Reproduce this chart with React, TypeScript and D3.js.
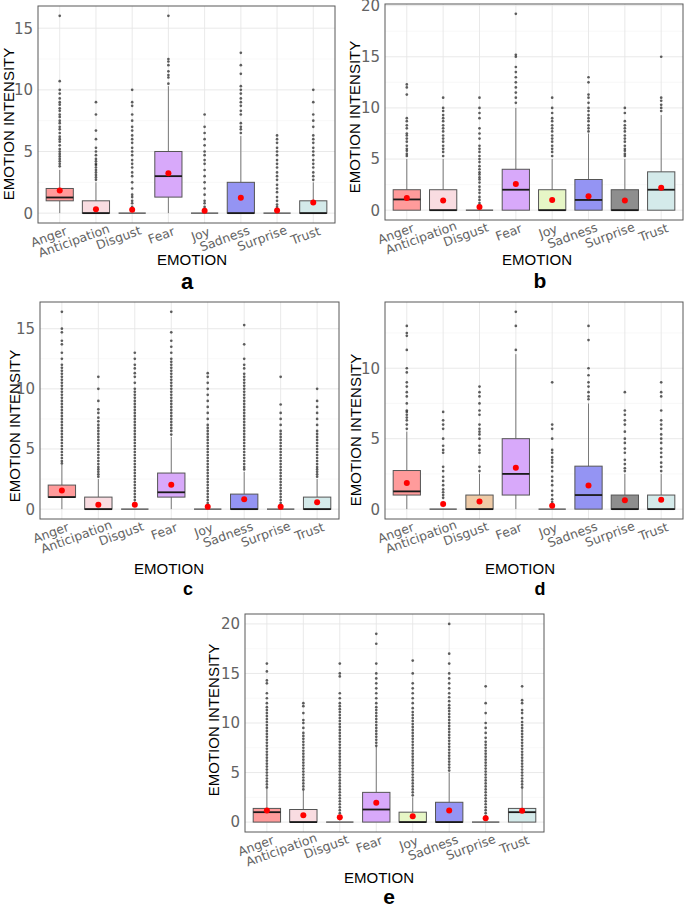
import * as d3 from 'd3';

const EMOTIONS = ['Anger', 'Anticipation', 'Disgust', 'Fear', 'Joy', 'Sadness', 'Surprise', 'Trust'];
const FILLS = ['#ff9b9b', '#f9dce1', '#eecaa6', '#d8a9fa', '#e6f6c6', '#9494f3', '#8e8e8e', '#d4eaea'];

// per emotion: [lower whisker, q1, median, q3, upper whisker]
const A_BOX = [[0, 1, 1.27, 2, 3.5], [0, 0, 0, 1, 2.5], [0, 0, 0, 0, 0], [0, 1.3, 3, 5, 10.3], [0, 0, 0, 0, 0], [0, 0, 0, 2.5, 6.25], [0, 0, 0, 0, 0], [0, 0, 0, 1, 2.5]];
const A_MEAN = [1.84, 0.32, 0.27, 3.24, 0.19, 1.24, 0.22, 0.86];
const A_OUT = [
  [3.8, 4, 4.2, 4.4, 4.6, 4.8, 5, 5.2, 5.5, 5.8, 6, 6.2, 6.5, 6.8, 7, 7.3, 7.5, 7.8, 8, 8.3, 8.5, 8.8, 9, 9.3, 9.7, 10, 10.7, 16],
  [2.7, 2.9, 3.1, 3.3, 3.5, 3.7, 3.9, 4, 4.2, 4.4, 4.7, 5, 5.3, 6, 6.7, 8, 9],
  [0.3, 0.5, 0.8, 1, 1.3, 1.5, 2, 2.5, 3, 3.3, 3.7, 4, 4.3, 4.7, 5, 5.3, 5.7, 6, 6.3, 6.7, 7, 7.5, 8, 8.7, 9, 10],
  [10.5, 11, 11.2, 11.5, 12, 12.3, 12.5, 16],
  [0.3, 0.5, 0.8, 1, 1.5, 2, 2.5, 3, 3.5, 4, 4.3, 4.7, 5, 5.5, 6, 6.5, 7, 8],
  [6.5, 6.8, 7, 7.3, 8, 8.3, 8.7, 9, 9.3, 9.7, 10, 10.3, 11.3, 12, 13],
  [0.3, 0.5, 0.7, 1, 1.3, 1.7, 2, 2.3, 2.7, 3, 3.3, 3.7, 4, 4.3, 4.7, 5, 5.3, 5.7, 6, 6.3],
  [2.7, 3, 3.3, 3.7, 4, 4.3, 4.7, 5, 5.3, 5.7, 6, 6.3, 7, 7.5, 8, 9, 10],
];

const B_BOX = [[0, 0, 1.05, 2, 5], [0, 0, 0, 2, 5], [0, 0, 0, 0, 0], [0, 0, 2, 4, 10], [0, 0, 0, 2, 5], [0, 0, 1, 3, 7.5], [0, 0, 0, 2, 5], [0, 0, 2, 3.75, 9.3]];
const B_MEAN = [1.2, 0.95, 0.3, 2.55, 1.0, 1.37, 0.95, 2.2];
const B_OUT = [
  [5.3, 5.5, 5.8, 6, 6.3, 6.7, 7, 7.3, 7.5, 8, 8.3, 8.7, 9, 11.3, 12, 12.3],
  [5.3, 5.7, 6, 6.3, 6.7, 7, 7.3, 7.7, 8, 8.3, 8.7, 9, 9.3, 9.7, 10, 11],
  [0.3, 0.5, 0.7, 1, 1.3, 1.7, 2, 2.3, 2.7, 3, 3.2, 3.5, 3.7, 4, 4.3, 4.7, 5, 5.3, 5.7, 6, 6.3, 7, 7.5, 8, 9, 9.5, 10, 11],
  [10.5, 11, 11.5, 12, 12.5, 13, 13.5, 14, 15, 15.2, 19.2],
  [5.3, 5.7, 6, 6.3, 6.7, 7, 7.3, 7.7, 8, 8.3, 8.7, 9, 9.5, 10, 11],
  [7.7, 8, 8.3, 8.7, 9, 9.3, 9.7, 10, 10.5, 11, 11.3, 12.5, 13],
  [5.3, 5.5, 5.8, 6, 6.3, 6.7, 7, 7.3, 7.7, 8, 8.3, 8.7, 9.5, 10],
  [9.7, 10, 10.3, 10.7, 11, 15],
];

const C_BOX = [[0, 1, 1, 2, 3.7], [0, 0, 0, 1, 2.5], [0, 0, 0, 0, 0], [0, 1, 1.4, 3, 6], [0, 0, 0, 0, 0], [0, 0, 0, 1.25, 3.1], [0, 0, 0, 0, 0], [0, 0, 0, 1, 2.5]];
const C_MEAN = [1.55, 0.36, 0.36, 2.03, 0.19, 0.83, 0.19, 0.58];
const C_OUT = [
  [3.8, 4, 4.25, 4.5, 4.75, 5, 5.25, 5.5, 5.75, 6, 6.25, 6.5, 6.75, 7, 7.25, 7.5, 7.75, 8, 8.25, 8.5, 8.75, 9, 9.25, 9.5, 9.75, 10, 10.25, 10.5, 10.75, 11, 11.25, 11.5, 11.75, 12, 12.5, 13, 13.7, 14, 14.7, 15, 16.4],
  [2.7, 2.9, 3.1, 3.3, 3.5, 3.75, 4, 4.25, 4.5, 4.75, 5, 5.25, 5.5, 5.75, 6, 6.25, 6.5, 6.75, 7, 7.3, 7.6, 8, 8.3, 9, 10, 11],
  [0.3, 0.5, 0.75, 1, 1.25, 1.5, 1.75, 2, 2.25, 2.5, 2.75, 3, 3.25, 3.5, 3.75, 4, 4.25, 4.5, 4.75, 5, 5.25, 5.5, 5.75, 6, 6.25, 6.5, 6.75, 7, 7.25, 7.5, 7.75, 8, 8.25, 8.5, 8.75, 9, 9.25, 9.5, 9.75, 10, 10.5, 11, 11.3, 11.7, 12, 12.5, 13],
  [6.2, 6.5, 6.75, 7, 7.25, 7.5, 7.75, 8, 8.25, 8.5, 8.75, 9, 9.25, 9.5, 9.75, 10, 10.25, 10.5, 10.75, 11, 11.25, 11.5, 11.75, 12, 12.25, 12.5, 13, 13.5, 14, 14.7, 16.4],
  [0.3, 0.5, 0.75, 1, 1.25, 1.5, 1.75, 2, 2.25, 2.5, 2.75, 3, 3.25, 3.5, 3.75, 4, 4.25, 4.5, 4.75, 5, 5.25, 5.5, 5.75, 6, 6.25, 6.5, 6.75, 7, 7.5, 8, 8.5, 9, 9.5, 10, 10.5, 11, 11.3],
  [3.3, 3.5, 3.75, 4, 4.25, 4.5, 4.75, 5, 5.25, 5.5, 5.75, 6, 6.25, 6.5, 6.75, 7, 7.25, 7.5, 7.75, 8, 8.25, 8.5, 8.75, 9, 9.25, 9.5, 9.75, 10, 10.25, 10.5, 10.75, 11, 11.25, 11.7, 12, 12.5, 13.7, 15.3],
  [0.3, 0.5, 0.75, 1, 1.25, 1.5, 1.75, 2, 2.25, 2.5, 2.75, 3, 3.25, 3.5, 3.75, 4, 4.25, 4.5, 4.75, 5, 5.25, 5.5, 5.75, 6, 6.25, 6.5, 7, 7.5, 8, 8.7, 11],
  [2.7, 2.9, 3.1, 3.3, 3.5, 3.75, 4, 4.25, 4.5, 4.75, 5, 5.25, 5.5, 5.75, 6, 6.25, 6.5, 7, 7.5, 8, 8.5, 9, 10],
];

const D_BOX = [[0, 1, 1.26, 2.74, 5.5], [0, 0, 0, 0, 0], [0, 0, 0, 1, 2.5], [0, 1, 2.5, 5, 11], [0, 0, 0, 0, 0], [0, 0, 1, 3.05, 7.5], [0, 0, 0, 1, 2.5], [0, 0, 0, 1, 2.5]];
const D_MEAN = [1.86, 0.36, 0.55, 2.93, 0.24, 1.67, 0.63, 0.67];
const D_OUT = [
  [5.7, 6, 6.3, 6.5, 6.7, 6.9, 7, 7.5, 8, 8.3, 8.7, 9, 9.7, 10, 11.3, 12.3, 12.5, 13],
  [0.8, 1, 1.2, 1.4, 1.7, 2, 2.3, 2.7, 3, 4, 4.2, 4.5, 5, 5.7, 6, 6.3, 6.9],
  [2.7, 3, 4, 4.2, 4.5, 5, 5.3, 5.5, 5.7, 6, 6.7, 7, 7.5, 8, 8.3, 8.7],
  [11.3, 13, 14],
  [0.5, 0.7, 1, 1.3, 1.7, 2, 2.3, 2.7, 3, 3.3, 3.5, 3.7, 4, 4.2, 5, 5.7, 6, 9],
  [7.8, 8, 8.3, 8.7, 9, 9.5, 10, 12, 13],
  [2.7, 2.9, 3.2, 3.5, 4, 4.3, 4.7, 5, 5.5, 6, 6.3, 6.7, 7, 8.3],
  [2.7, 3, 3.3, 3.7, 4, 4.3, 4.7, 5, 5.3, 5.7, 6, 6.3, 7, 8, 8.3, 9],
];

const E_BOX = [[0, 0, 1, 1.38, 3.4], [0, 0, 0, 1.27, 3.2], [0, 0, 0, 0, 0], [0, 0, 1.27, 3, 7.6], [0, 0, 0, 1, 2.5], [0, 0, 0, 2, 5], [0, 0, 0, 0, 0], [0, 0, 1, 1.38, 3.4]];
const E_MEAN = [1.17, 0.7, 0.5, 1.95, 0.6, 1.17, 0.4, 1.14];
const E_OUT = [
  [3.5, 3.8, 4.1, 4.4, 4.7, 5, 5.3, 5.6, 5.9, 6.2, 6.5, 6.8, 7.1, 7.4, 7.7, 8, 8.3, 8.6, 8.9, 9.2, 9.5, 9.8, 10.1, 10.4, 10.7, 11, 11.3, 11.6, 12, 12.5, 13, 14, 14.3, 15.2, 16],
  [3.3, 3.6, 3.9, 4.2, 4.5, 4.8, 5.1, 5.4, 5.7, 6, 6.3, 6.6, 6.9, 7.2, 7.5, 7.8, 8.1, 8.4, 8.7, 9, 9.5, 10, 10.3, 11, 11.7, 12],
  [0.3, 0.6, 0.9, 1.2, 1.5, 1.8, 2.1, 2.4, 2.7, 3, 3.3, 3.6, 3.9, 4.2, 4.5, 4.8, 5.1, 5.4, 5.7, 6, 6.3, 6.6, 6.9, 7.2, 7.5, 7.8, 8.1, 8.4, 8.7, 9, 9.3, 9.6, 9.9, 10.2, 10.5, 10.8, 11.1, 11.4, 11.7, 12, 12.5, 13, 14.7, 15, 16],
  [7.7, 8, 8.3, 8.6, 8.9, 9.2, 9.5, 9.8, 10.1, 10.4, 10.7, 11, 11.3, 11.6, 12, 12.5, 13, 13.5, 14, 14.5, 15, 16, 18, 19],
  [2.7, 3, 3.3, 3.6, 3.9, 4.2, 4.5, 4.8, 5.1, 5.4, 5.7, 6, 6.3, 6.6, 6.9, 7.2, 7.5, 7.8, 8.1, 8.4, 8.7, 9, 9.3, 9.6, 9.9, 10.2, 10.5, 10.8, 11.1, 11.5, 12, 12.5, 13, 13.5, 14, 15, 16.3],
  [5.2, 5.5, 5.8, 6.1, 6.4, 6.7, 7, 7.3, 7.6, 7.9, 8.2, 8.5, 8.8, 9.1, 9.4, 9.7, 10, 10.3, 10.6, 10.9, 11.2, 11.5, 11.8, 12.2, 12.6, 13, 13.5, 14, 14.5, 15, 16, 17, 20],
  [0.3, 0.6, 0.9, 1.2, 1.5, 1.8, 2.1, 2.4, 2.7, 3, 3.3, 3.6, 3.9, 4.2, 4.5, 4.8, 5.1, 5.4, 5.7, 6, 6.3, 6.6, 6.9, 7.2, 7.5, 7.8, 8.1, 8.5, 9, 9.5, 10, 11, 12, 13.7],
  [3.5, 3.8, 4.1, 4.4, 4.7, 5, 5.3, 5.6, 5.9, 6.2, 6.5, 6.8, 7.1, 7.4, 7.7, 8, 8.3, 8.6, 8.9, 9.2, 9.5, 9.8, 10.1, 10.5, 11, 11.3, 12, 12.3, 13.7],
];

const X_TITLE = 'EMOTION';
const Y_TITLE = 'EMOTION INTENSITY';

interface PanelSpec {
  letter: string;
  box: number[][];
  mean: number[];
  out: number[][];
  // plot rectangle
  x0: number; x1: number; y0: number; y1: number;
  yTitle: [number, number];
  xTitle: [number, number];
  tag: [number, number, number];
}

const PANELS: PanelSpec[] = [
  { letter: 'a', box: A_BOX, mean: A_MEAN, out: A_OUT, x0: 38, x1: 335, y0: 6, y1: 223, yTitle: [13.5, 124], xTitle: [192, 265], tag: [187, 289, 22] },
  { letter: 'b', box: B_BOX, mean: B_MEAN, out: B_OUT, x0: 385, x1: 683, y0: 4, y1: 220, yTitle: [359.5, 117], xTitle: [537, 265], tag: [540, 288, 21] },
  { letter: 'c', box: C_BOX, mean: C_MEAN, out: C_OUT, x0: 40, x1: 339, y0: 302, y1: 519, yTitle: [19.5, 426], xTitle: [169, 574], tag: [188, 595, 18] },
  { letter: 'd', box: D_BOX, mean: D_MEAN, out: D_OUT, x0: 385, x1: 683, y0: 302, y1: 519, yTitle: [360.5, 430], xTitle: [520, 574], tag: [540, 595, 18] },
  { letter: 'e', box: E_BOX, mean: E_MEAN, out: E_OUT, x0: 245, x1: 544, y0: 614, y1: 832, yTitle: [219, 720], xTitle: [379, 883], tag: [389, 904, 21] },
];

const TICK_FONT = '"DejaVu Sans", sans-serif';
const TITLE_FONT = '"Liberation Sans", Arial, sans-serif';

function Panel({ p }: { p: PanelSpec }) {
  const maxV = d3.max([...p.box.map((b) => b[4]), ...p.out.flat()]) ?? 0;
  const pad = maxV * 0.05;
  const y = d3.scaleLinear().domain([-pad, maxV + pad]).range([p.y1, p.y0]);
  const x = d3.scalePoint<string>().domain(EMOTIONS).range([p.x0, p.x1]).padding(0.6);
  const bw = x.step() * 0.75;

  const major = y.ticks(4);
  const step = major.length > 1 ? major[1] - major[0] : 5;
  const minor = d3.range(major[0] - step / 2, maxV + pad, step).filter((v) => v > -pad && v < maxV + pad);

  return (
    <g>
      <rect x={p.x0} y={p.y0} width={p.x1 - p.x0} height={p.y1 - p.y0} fill="#fff" />
      {minor.map((t) => (
        <line key={'mn' + t} x1={p.x0} x2={p.x1} y1={y(t)} y2={y(t)} stroke="#f3f3f3" strokeWidth={0.6} />
      ))}
      {major.map((t) => (
        <line key={'mj' + t} x1={p.x0} x2={p.x1} y1={y(t)} y2={y(t)} stroke="#e6e6e6" strokeWidth={0.9} />
      ))}
      {EMOTIONS.map((e) => (
        <line key={'gx' + e} x1={x(e)} x2={x(e)} y1={p.y0} y2={p.y1} stroke="#e6e6e6" strokeWidth={0.9} />
      ))}

      {EMOTIONS.map((e, i) => {
        const [lo, q1, med, q3, hi] = p.box[i];
        const cx = x(e) as number;
        const flat = q1 === q3;
        return (
          <g key={'bx' + e}>
            <line x1={cx} x2={cx} y1={y(q3)} y2={y(hi)} stroke="#7a7a7a" strokeWidth={1} />
            <line x1={cx} x2={cx} y1={y(q1)} y2={y(lo)} stroke="#7a7a7a" strokeWidth={1} />
            {!flat && (
              <rect x={cx - bw / 2} y={y(q3)} width={bw} height={y(q1) - y(q3)} fill={FILLS[i]} stroke="#555" strokeWidth={1} />
            )}
            <line x1={cx - bw / 2} x2={cx + bw / 2} y1={y(med)} y2={y(med)}
              stroke={flat ? '#555' : '#1a1a1a'} strokeWidth={flat ? 1.4 : 1.8} />
          </g>
        );
      })}

      {EMOTIONS.map((e, i) => (
        <g key={'ol' + e}>
          {p.out[i].map((v, j) => (
            <circle key={j} cx={x(e)} cy={y(v)} r={1.35} fill="#222" fillOpacity={0.72} />
          ))}
        </g>
      ))}

      {EMOTIONS.map((e, i) => (
        <circle key={'mu' + e} cx={x(e)} cy={y(p.mean[i])} r={3} fill="#ff0000" />
      ))}

      <rect x={p.x0} y={p.y0} width={p.x1 - p.x0} height={p.y1 - p.y0} fill="none" stroke="#595959" strokeWidth={1} />

      {major.map((t) => (
        <text key={'yl' + t} x={p.x0 - 5} y={y(t)} dy="0.36em" textAnchor="end"
          fontFamily={TICK_FONT} fontSize={15} fill="#636363">{t}</text>
      ))}
      {EMOTIONS.map((e) => (
        <text key={'xl' + e} transform={`translate(${x(e)},${p.y1 + 4}) rotate(-20)`}
          dx={`${e.length * 0.08}em`} dy="0.78em" textAnchor="end"
          fontFamily={TICK_FONT} fontSize={12.5} fill="#636363">{e}</text>
      ))}

      <text transform={`translate(${p.yTitle[0]},${p.yTitle[1]}) rotate(-90)`} textAnchor="middle"
        fontFamily={TITLE_FONT} fontSize={15} fill="#000">{Y_TITLE}</text>
      <text x={p.xTitle[0]} y={p.xTitle[1]} textAnchor="middle"
        fontFamily={TITLE_FONT} fontSize={15} fill="#000">{X_TITLE}</text>
      <text x={p.tag[0]} y={p.tag[1]} textAnchor="middle" fontFamily={TITLE_FONT}
        fontWeight="bold" fontSize={p.tag[2]} fill="#000">{p.letter}</text>
    </g>
  );
}

export default function App() {
  return (
    <svg width={685} height={906} style={{ position: 'absolute', left: 0, top: 0, background: '#fff' }}>
      {PANELS.map((p) => (
        <Panel key={p.letter} p={p} />
      ))}
    </svg>
  );
}
